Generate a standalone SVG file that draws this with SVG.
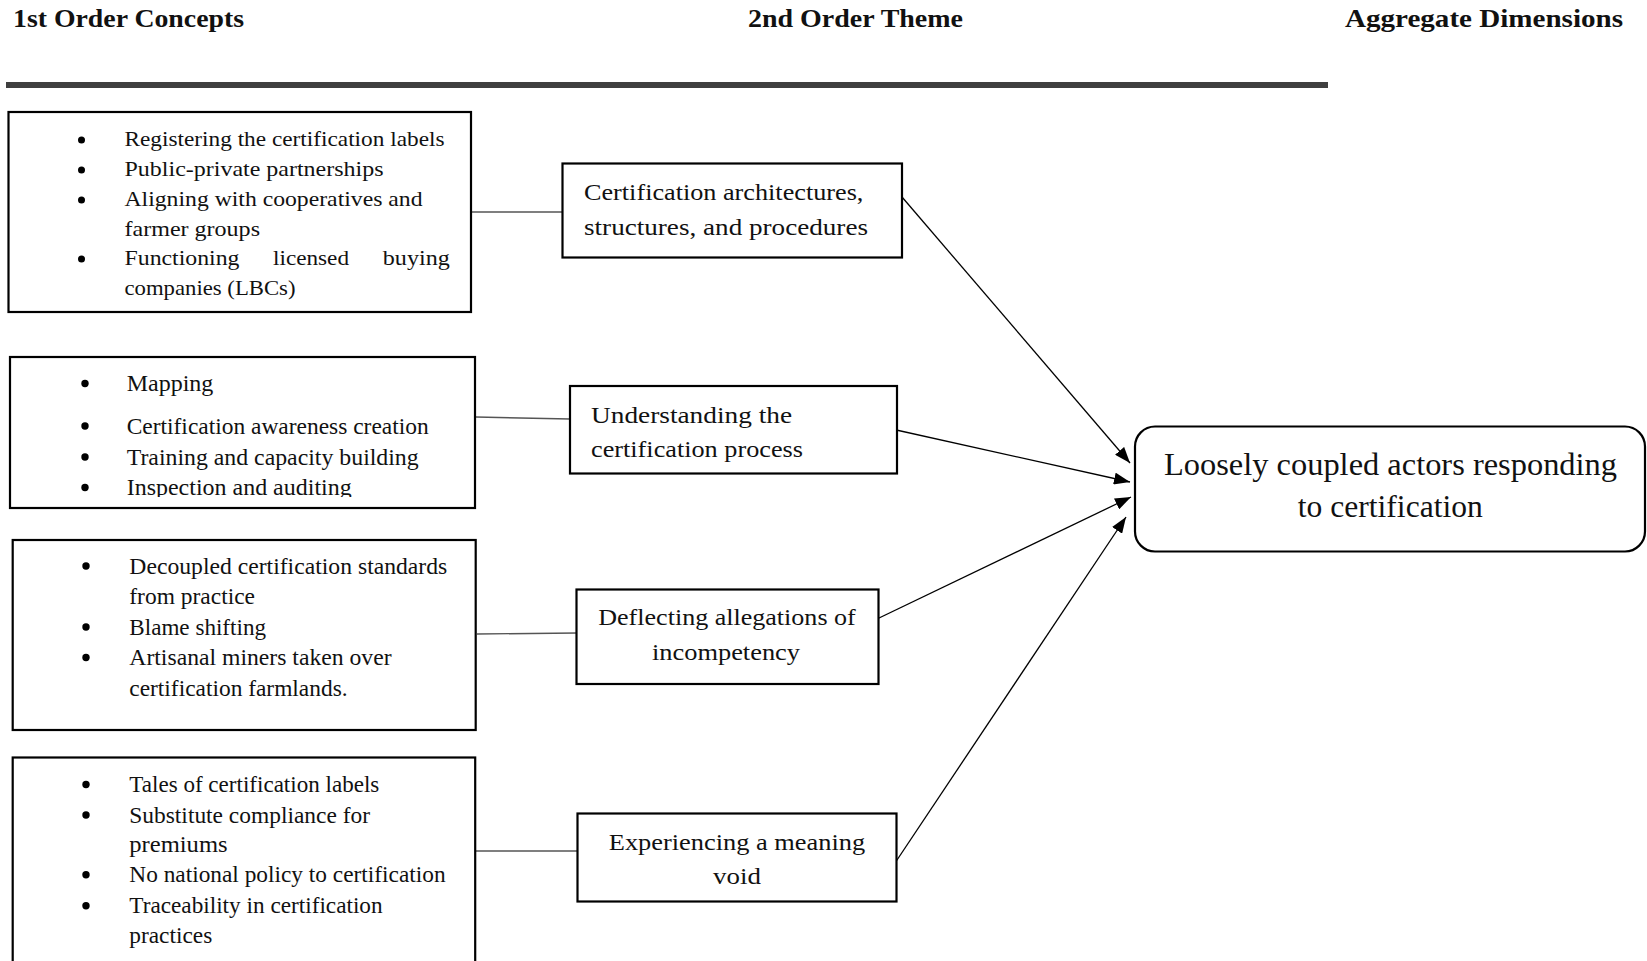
<svg xmlns="http://www.w3.org/2000/svg" width="1647" height="961" viewBox="0 0 1647 961">
  <style>
    text { font-family: "Liberation Serif", "Times New Roman", serif; fill: #111; }
    .hdr { font-size: 25px; font-weight: bold; }
    .s21 { font-size: 21px; }
    .s23 { font-size: 23px; }
    .agg { font-size: 31px; }
    .mid { text-anchor: middle; }
    .box { fill: #fff; stroke: #000; stroke-width: 2.2; }
    .dot { fill: #000; }
    .link { stroke: #555; stroke-width: 1.4; fill: none; }
    .arrow { stroke: #000; stroke-width: 1.3; fill: none; marker-end: url(#head); }
  </style>
  <defs>
    <marker id="head" viewBox="0 0 16 12" refX="16" refY="6" markerWidth="16" markerHeight="12" markerUnits="userSpaceOnUse" orient="auto">
      <path d="M0,0 L16,6 L0,12 Z" fill="#000"/>
    </marker>
    <clipPath id="clip2">
      <rect x="10" y="357" width="465" height="140"/>
    </clipPath>
  </defs>

  <rect width="1647" height="961" fill="#fff"/>

  <!-- column headings -->
  <g id="headings">
    <text class="hdr" x="13" y="27" textLength="231" lengthAdjust="spacingAndGlyphs">1st Order Concepts</text>
    <text class="hdr" x="748" y="27" textLength="215" lengthAdjust="spacingAndGlyphs">2nd Order Theme</text>
    <text class="hdr" x="1345" y="27" textLength="278" lengthAdjust="spacingAndGlyphs">Aggregate Dimensions</text>
    <rect x="6" y="82" width="1322" height="6" fill="#3f3f3f"/>
  </g>

  <!-- connectors -->
  <g id="connectors">
    <line class="link" x1="472" y1="212" x2="563" y2="212"/>
    <line class="link" x1="476" y1="417" x2="570" y2="419"/>
    <line class="link" x1="477" y1="634" x2="577" y2="633"/>
    <line class="link" x1="476" y1="851" x2="578" y2="851"/>
    <line class="arrow" x1="902" y1="197" x2="1130" y2="463"/>
    <line class="arrow" x1="894" y1="429.5" x2="1130" y2="482"/>
    <line class="arrow" x1="878" y1="618.5" x2="1131" y2="497"/>
    <line class="arrow" x1="896" y1="861.5" x2="1126" y2="517"/>
  </g>

  <!-- first-order concept lists -->
  <g id="concepts-1">
    <rect class="box" x="8.5" y="112" width="462.5" height="200"/>
    <circle class="dot" cx="81.5" cy="140" r="3.5"/>
    <circle class="dot" cx="81.5" cy="170" r="3.5"/>
    <circle class="dot" cx="81.5" cy="200" r="3.5"/>
    <circle class="dot" cx="81.5" cy="259" r="3.5"/>
    <g class="s21">
      <text x="124.5" y="146" textLength="320" lengthAdjust="spacingAndGlyphs">Registering the certification labels</text>
      <text x="124.5" y="176" textLength="259" lengthAdjust="spacingAndGlyphs">Public-private partnerships</text>
      <text x="124.5" y="206" textLength="298" lengthAdjust="spacingAndGlyphs">Aligning with cooperatives and</text>
      <text x="124.5" y="235.5" textLength="135.5" lengthAdjust="spacingAndGlyphs">farmer groups</text>
      <text x="124.5" y="265" textLength="115" lengthAdjust="spacingAndGlyphs">Functioning</text>
      <text x="273" y="265" textLength="76" lengthAdjust="spacingAndGlyphs">licensed</text>
      <text x="382.8" y="265" textLength="67" lengthAdjust="spacingAndGlyphs">buying</text>
      <text x="124.5" y="294.5" textLength="171" lengthAdjust="spacingAndGlyphs">companies (LBCs)</text>
    </g>
  </g>

  <g id="concepts-2">
    <rect class="box" x="10" y="357" width="465" height="151"/>
    <circle class="dot" cx="85" cy="383.5" r="3.7"/>
    <circle class="dot" cx="85" cy="426" r="3.7"/>
    <circle class="dot" cx="85" cy="457" r="3.7"/>
    <circle class="dot" cx="85" cy="487.5" r="3.7"/>
    <g class="s23" clip-path="url(#clip2)">
      <text x="126.7" y="391" textLength="86.7" lengthAdjust="spacingAndGlyphs">Mapping</text>
      <text x="126.7" y="433.5" textLength="302" lengthAdjust="spacingAndGlyphs">Certification awareness creation</text>
      <text x="126.7" y="464.5" textLength="292" lengthAdjust="spacingAndGlyphs">Training and capacity building</text>
      <text x="126.7" y="495" textLength="225" lengthAdjust="spacingAndGlyphs">Inspection and auditing</text>
    </g>
  </g>

  <g id="concepts-3">
    <rect class="box" x="12.7" y="540" width="463" height="190"/>
    <circle class="dot" cx="86" cy="566" r="3.7"/>
    <circle class="dot" cx="86" cy="627" r="3.7"/>
    <circle class="dot" cx="86" cy="657.5" r="3.7"/>
    <g class="s23">
      <text x="129.3" y="573.5" textLength="318" lengthAdjust="spacingAndGlyphs">Decoupled certification standards</text>
      <text x="129.3" y="603.5" textLength="125.7" lengthAdjust="spacingAndGlyphs">from practice</text>
      <text x="129.3" y="634.5" textLength="136.7" lengthAdjust="spacingAndGlyphs">Blame shifting</text>
      <text x="129.3" y="665" textLength="262.3" lengthAdjust="spacingAndGlyphs">Artisanal miners taken over</text>
      <text x="129.3" y="696" textLength="218.3" lengthAdjust="spacingAndGlyphs">certification farmlands.</text>
    </g>
  </g>

  <g id="concepts-4">
    <rect class="box" x="12.7" y="757.5" width="462.5" height="220"/>
    <circle class="dot" cx="86" cy="784.5" r="3.7"/>
    <circle class="dot" cx="86" cy="815" r="3.7"/>
    <circle class="dot" cx="86" cy="874.8" r="3.7"/>
    <circle class="dot" cx="86" cy="905.8" r="3.7"/>
    <g class="s23">
      <text x="129.3" y="792" textLength="250" lengthAdjust="spacingAndGlyphs">Tales of certification labels</text>
      <text x="129.3" y="822.7" textLength="240.7" lengthAdjust="spacingAndGlyphs">Substitute compliance for</text>
      <text x="129.3" y="852" textLength="98.3" lengthAdjust="spacingAndGlyphs">premiums</text>
      <text x="129.3" y="882.3" textLength="316.3" lengthAdjust="spacingAndGlyphs">No national policy to certification</text>
      <text x="129.3" y="913.3" textLength="253.3" lengthAdjust="spacingAndGlyphs">Traceability in certification</text>
      <text x="129.3" y="943" textLength="83" lengthAdjust="spacingAndGlyphs">practices</text>
    </g>
  </g>

  <!-- second-order themes -->
  <g id="theme-1">
    <rect class="box" x="562.5" y="163.5" width="339.5" height="94"/>
    <text class="s23" x="584" y="200" textLength="279.4" lengthAdjust="spacingAndGlyphs">Certification architectures,</text>
    <text class="s23" x="584" y="234.5" textLength="284" lengthAdjust="spacingAndGlyphs">structures, and procedures</text>
  </g>

  <g id="theme-2">
    <rect class="box" x="570" y="386" width="327" height="87.5"/>
    <text class="s23" x="591" y="423" textLength="201" lengthAdjust="spacingAndGlyphs">Understanding the</text>
    <text class="s23" x="591" y="457" textLength="212" lengthAdjust="spacingAndGlyphs">certification process</text>
  </g>

  <g id="theme-3">
    <rect class="box" x="576.5" y="589.5" width="302" height="94.5"/>
    <text class="s23 mid" x="727" y="625" textLength="257.5" lengthAdjust="spacingAndGlyphs">Deflecting allegations of</text>
    <text class="s23 mid" x="726" y="659.5" textLength="148" lengthAdjust="spacingAndGlyphs">incompetency</text>
  </g>

  <g id="theme-4">
    <rect class="box" x="577.5" y="813.5" width="319" height="88"/>
    <text class="s23 mid" x="737" y="850" textLength="256.4" lengthAdjust="spacingAndGlyphs">Experiencing a meaning</text>
    <text class="s23 mid" x="737" y="883.5" textLength="47.8" lengthAdjust="spacingAndGlyphs">void</text>
  </g>

  <!-- aggregate dimension -->
  <g id="aggregate">
    <rect class="box" x="1135" y="426.5" width="510" height="125" rx="20" ry="20"/>
    <text class="agg mid" x="1390.5" y="475" textLength="453" lengthAdjust="spacingAndGlyphs">Loosely coupled actors responding</text>
    <text class="agg mid" x="1390.3" y="516.5" textLength="185" lengthAdjust="spacingAndGlyphs">to certification</text>
  </g>
</svg>
